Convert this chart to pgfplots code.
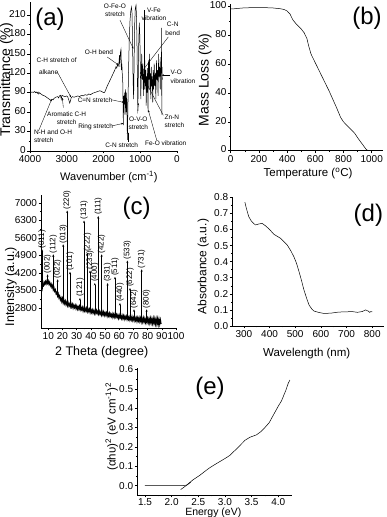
\documentclass[border=0pt]{standalone}
\usepackage{fontspec}
\setmainfont{Liberation Sans}
\usepackage{pgfplots}
\usepackage{pgfplotstable}
\pgfplotsset{compat=1.18}
\usetikzlibrary{arrows.meta}
\newcommand\myfs[1]{\fontsize{#1}{#1}\selectfont}
\newcommand\annfont{\fontsize{6.5}{8.5}\selectfont}
\pgfplotsset{myax/.style={scale only axis, axis lines*=left, tick align=outside,
  major tick length=2.5pt, minor tick length=1.4pt,
  every tick/.append style={black, line width=0.5pt},
  axis line style={line width=0.6pt},
  tick label style={font=\myfs{10}},
  xticklabel style={inner sep=1.5pt}, yticklabel style={inner sep=1.5pt},
  every axis x label/.append style={inner sep=0pt},
  every axis y label/.append style={inner sep=0pt},
  /pgf/number format/assume math mode=true, /pgf/number format/1000 sep={},
  clip=false, anchor=south west}}
\tikzset{ann/.style={-{Stealth[length=2.2pt,width=1.8pt]}, line width=0.35pt},
  annt/.style={font=\annfont, inner sep=0.5pt, align=center}}

\pgfplotstableread{
x base dy
5.6 3550 1600
9.5 3830 320
13.5 3600 1350
16.6 3330 620
20.5 3075 2275
23.3 2970 3730
25.3 2915 1335
32.3 2795 405
35.2 2745 3555
37.6 2715 2285
39.4 2690 1610
42.8 2645 1155
45.2 2618 3862
47.6 2590 2360
51.8 2540 1260
57.0 2485 1565
60.5 2450 550
65.7 2405 2295
67.6 2385 1215
70.4 2362 388
75.8 2320 2030
79.3 2295 455
}\peaks

\begin{document}
\begin{tikzpicture}
\path[use as bounding box] (0,0) rectangle (387pt,517pt);

% ---------------- (a) FTIR
\begin{axis}[myax, at={(30pt,366pt)}, width=147pt, height=149pt,
  x dir=reverse, xmin=0, xmax=4000, ymin=0, ymax=230,
  xtick={0,1000,2000,3000,4000}, minor x tick num=1,
  ytick={0,30,60,90,120,150,180,210}, minor y tick num=1,
  xticklabel style={inner sep=2.2pt}, yticklabel style={yshift=1.2pt},
  xlabel={Wavenumber (cm\textsuperscript{-1})}, ylabel={Transmittance (\%)},
  xlabel style={font=\myfs{11}, at={(axis description cs:0.537,-0.172)}, anchor=center},
  ylabel style={font=\myfs{14}, at={(axis description cs:-0.16,0.477)}, anchor=center}]
\addplot[black, line width=0.5pt] coordinates {
(4000,90) (3950,91) (3900,90.5) (3870,92) (3850,90) (3820,91) (3800,89) (3780,91)
(3760,88) (3740,90) (3700,88) (3650,86) (3600,85) (3550,83) (3500,81) (3450,79)
(3420,78) (3400,80) (3370,79) (3350,81) (3300,83) (3250,84) (3220,82) (3200,85)
(3170,86) (3150,80) (3130,86) (3100,85) (3050,84) (3000,85) (2970,83) (2940,78)
(2920,74) (2900,77) (2880,82) (2850,84) (2800,83) (2750,84) (2700,85) (2650,84)
(2600,86) (2550,85) (2500,87) (2450,86) (2400,88) (2350,87) (2300,89) (2250,90)
(2200,91) (2150,92) (2100,93) (2050,92) (2000,90) (1980,90) (1960,91.5) (1900,100)
(1850,106) (1800,112) (1750,118) (1700,124) (1660,130) (1640,128) (1620,133) (1600,131)
(1580,136) (1565,148) (1555,130) (1540,152) (1524,157) (1510,125) (1500,135) (1490,120)
(1475,105) (1460,40) (1450,85) (1440,72) (1425,90) (1415,56) (1400,95) (1385,60)
(1370,90) (1350,17) (1335,70) (1320,120) (1300,170) (1280,200) (1260,215) (1240,222)
(1225,215) (1210,170) (1195,110) (1180,80) (1170,120) (1155,190) (1135,220) (1115,225)
(1100,205) (1085,150) (1075,100) (1065,62) (1055,110) (1040,170) (1025,198) (1010,175)
(995,120) (985,80) (975,110) (960,150) (945,110) (930,135) (915,85) (900,125)
(888,95) (875,140) (862,100) (850,125) (838,70) (825,115) (812,90) (800,128)
(788,60) (775,140) (762,110) (750,150) (738,95) (725,120) (712,80) (700,130)
(688,100) (675,115) (660,75) (648,125) (635,95) (620,135) (605,100) (590,120)
(575,80) (560,140) (545,110) (530,125) (515,85) (500,150) (485,115) (470,130)
(455,95) (440,145) (425,120) (418,190) (414,56) (408,130) (400,110)};
\node[font=\myfs{24}] at (axis cs:3456,204) {(a)};
% annotations
\node[annt, anchor=west] at (axis cs:3840,140) {C-H stretch of};
\node[annt, anchor=west] at (axis cs:3773,121) {alkane};
\draw[ann] (axis cs:3257,122) -- (axis cs:2884,83);
\node[annt] at (axis cs:3002,51) {Aromatic C-H\\stretch};
\draw[ann] (axis cs:3093,67) -- (axis cs:3120,82);
\node[annt, anchor=north west, align=left] at (axis cs:3909,34) {N-H and O-H\\stretch};
\draw[ann] (axis cs:3767,31) -- (axis cs:3410,80);
\node[annt] at (axis cs:2122,153) {O-H bend};
\draw[ann] (axis cs:1896,145) -- (axis cs:1597,133);
\node[annt] at (axis cs:2231,79) {C=N stretch};
\draw[ann] (axis cs:1777,79) -- (axis cs:1442,75);
\node[annt] at (axis cs:2213,37.5) {Ring stretch};
\draw[ann] (axis cs:1777,38.6) -- (axis cs:1461,42.7);
\node[annt] at (axis cs:1505,9.3) {C-N stretch};
\draw[ann] (axis cs:1342,14.4) -- (axis cs:1342,30);
\node[annt] at (axis cs:1687,217) {O-Fe-O\\stretch};
\draw[ann] (axis cs:1551,202) -- (axis cs:1189,158);
\node[annt] at (axis cs:626,211) {V-Fe\\vibration};
\draw[ann] (axis cs:898,217) -- (axis cs:898,104);
\node[annt] at (axis cs:117,189) {C-N\\bend};
\draw[ann] (axis cs:237,176) -- (axis cs:1007,119);
\node[annt, anchor=north west, align=left] at (axis cs:190,126) {V-O\\vibration};
\draw[ann] (axis cs:190,117) -- (axis cs:416,117);
\node[annt, anchor=north west, align=left] at (axis cs:354,57) {Zn-N\\stretch};
\draw[ann] (axis cs:372,55) -- (axis cs:917,114);
\node[annt] at (axis cs:1052,43) {O-V-O\\stretch};
\draw[ann] (axis cs:1070,58) -- (axis cs:1052,74);
\node[annt] at (axis cs:307,11.9) {Fe-O vibration};
\draw[ann] (axis cs:553,17) -- (axis cs:781,63);
\end{axis}

% ---------------- (b) TGA
\begin{axis}[myax, at={(230.7pt,366.3pt)}, width=152.3pt, height=146.9pt,
  xmin=0, xmax=1080, ymin=0, ymax=102,
  xtick={0,200,400,600,800,1000}, minor x tick num=1,
  ytick={0,20,40,60,80,100}, minor y tick num=1,
  xticklabel style={inner sep=2.2pt}, yticklabel style={yshift=1.2pt},
  xlabel={Temperature (\textsuperscript{o}C)}, ylabel={Mass Loss (\%)},
  xlabel style={font=\myfs{11.5}, at={(axis description cs:0.508,-0.155)}, anchor=center},
  ylabel style={font=\myfs{14}, at={(axis description cs:-0.169,0.481)}, anchor=center}]
\addplot[black, line width=0.5pt] coordinates {
(0,98.5) (20,98.5) (50,98.8) (100,99.2) (150,99.3) (200,99.3) (250,99.3) (300,99.1)
(350,98.6) (380,98) (400,97) (420,95) (440,91) (460,88.5) (480,86.5) (500,84.5)
(520,82) (540,78) (555,72) (570,67) (600,61) (650,51) (700,41) (750,30) (780,23)
(800,20) (830,17) (860,14) (880,12) (900,9) (930,5) (960,1) (975,0)};
\node[font=\myfs{24}] at (axis cs:967,92) {(b)};
\end{axis}

% ---------------- (c) XRD
\begin{axis}[myax, at={(41.2pt,189pt)}, width=134.8pt, height=132.5pt,
  xmin=5, xmax=100, ymin=2000, ymax=7300,
  xtick={10,20,...,100}, minor x tick num=1,
  ytick={2800,3500,4200,4900,5600,6300,7000}, minor y tick num=1,
  xlabel={2 Theta (degree)}, ylabel={Intensity (a.u.)},
  xlabel style={font=\myfs{12.5}, at={(axis description cs:0.449,-0.181)}, anchor=center},
  ylabel style={font=\myfs{12.5}, at={(axis description cs:-0.225,0.312)}, anchor=center}]
\addplot[black, line width=1.1pt] coordinates {
(5.0,3490) (5.5,3490) (6.0,3700) (6.5,3680) (7.0,3830) (7.5,3750) (8.0,3860) (8.5,3770)
(9.0,3880) (9.5,3790) (10.0,3880) (10.5,3750) (11.0,3830) (11.5,3690) (12.0,3760) (12.5,3630)
(13.0,3700) (13.5,3530) (14.0,3610) (14.5,3470) (15.0,3530) (15.5,3370) (16.0,3420) (16.5,3280)
(17.0,3370) (17.5,3210) (18.0,3280) (18.5,3120) (19.0,3200) (19.5,3060) (20.0,3180) (20.5,3005)
(21.0,3110) (21.5,2980) (22.0,3080) (22.5,2935) (23.0,3030) (23.5,2895) (24.0,3010) (24.5,2885)
(25.0,2960) (25.5,2851) (26.0,2972) (26.5,2843) (27.0,2944) (27.5,2805) (28.0,2916) (28.5,2817)
(29.0,2908) (29.5,2779) (30.0,2880) (30.5,2752) (31.0,2854) (31.5,2756) (32.0,2868) (32.5,2730)
(33.0,2832) (33.5,2734) (34.0,2826) (34.5,2688) (35.0,2800) (35.5,2683) (36.0,2776) (36.5,2679)
(37.0,2792) (37.5,2655) (38.0,2758) (38.5,2661) (39.0,2754) (39.5,2617) (40.0,2730) (40.5,2624)
(41.0,2728) (41.5,2602) (42.0,2696) (42.5,2580) (43.0,2704) (43.5,2588) (44.0,2702) (44.5,2586)
(45.0,2670) (45.5,2554) (46.0,2668) (46.5,2552) (47.0,2636) (47.5,2520) (48.0,2644) (48.5,2528)
(49.0,2642) (49.5,2506) (50.0,2610) (50.5,2514) (51.0,2609) (51.5,2473) (52.0,2588) (52.5,2482)
(53.0,2597) (53.5,2461) (54.0,2556) (54.5,2460) (55.0,2565) (55.5,2430) (56.0,2545) (56.5,2430)
(57.0,2555) (57.5,2440) (58.0,2535) (58.5,2420) (59.0,2515) (59.5,2390) (60.0,2515) (60.5,2400)
(61.0,2486) (61.5,2381) (62.0,2507) (62.5,2382) (63.0,2488) (63.5,2353) (64.0,2469) (64.5,2374)
(65.0,2470) (65.5,2345) (66.0,2471) (66.5,2346) (67.0,2442) (67.5,2317) (68.0,2443) (68.5,2328)
(69.0,2454) (69.5,2309) (70.0,2415) (70.5,2291) (71.0,2427) (71.5,2303) (72.0,2409) (72.5,2265)
(73.0,2411) (73.5,2287) (74.0,2413) (74.5,2269) (75.0,2395) (75.5,2241) (76.0,2378) (76.5,2244)
(77.0,2401) (77.5,2247) (78.0,2374) (78.5,2220) (79.0,2357) (79.5,2223) (80.0,2380) (80.5,2217)
(81.0,2364) (81.5,2201) (82.0,2378) (82.5,2205) (83.0,2362) (83.5,2189) (84.0,2376) (84.5,2193)
(85.0,2360) (85.5,2165) (86.0,2360) (86.5,2165) (87.0,2360) (87.5,2148) (88.0,2346) (88.5,2154)
(89.0,2322) (89.5,2160)};
\addplot[black, line width=0.4pt, -{Stealth[length=2.5pt,width=2pt]},
  quiver={u=0, v=\thisrow{dy}}] table[x=x, y=base] {\peaks};
\node[rotate=90, anchor=west, font=\myfs{8}, inner sep=0.8pt] at (axis cs:5.6,5150) {(011)};
\node[rotate=90, anchor=west, font=\myfs{8}, inner sep=0.8pt] at (axis cs:9.5,4150) {(002)};
\node[rotate=90, anchor=west, font=\myfs{8}, inner sep=0.8pt] at (axis cs:13.5,4950) {(112)};
\node[rotate=90, anchor=west, font=\myfs{8}, inner sep=0.8pt] at (axis cs:16.6,3950) {(022)};
\node[rotate=90, anchor=west, font=\myfs{8}, inner sep=0.8pt] at (axis cs:20.5,5350) {(013)};
\node[rotate=90, anchor=west, font=\myfs{8}, inner sep=0.8pt] at (axis cs:23.3,6700) {(220)};
\node[rotate=90, anchor=west, font=\myfs{8}, inner sep=0.8pt] at (axis cs:25.3,4250) {(101)};
\node[rotate=90, anchor=west, font=\myfs{8}, inner sep=0.8pt] at (axis cs:32.3,3200) {(121)};
\node[rotate=90, anchor=west, font=\myfs{8}, inner sep=0.8pt] at (axis cs:35.2,6300) {(131)};
\node[rotate=90, anchor=west, font=\myfs{8}, inner sep=0.8pt] at (axis cs:37.6,5000) {(222)};
\node[rotate=90, anchor=west, font=\myfs{8}, inner sep=0.8pt] at (axis cs:39.4,4300) {(233)};
\node[rotate=90, anchor=west, font=\myfs{8}, inner sep=0.8pt] at (axis cs:42.8,3800) {(400)};
\node[rotate=90, anchor=west, font=\myfs{8}, inner sep=0.8pt] at (axis cs:45.2,6480) {(111)};
\node[rotate=90, anchor=west, font=\myfs{8}, inner sep=0.8pt] at (axis cs:47.6,4950) {(422)};
\node[rotate=90, anchor=west, font=\myfs{8}, inner sep=0.8pt] at (axis cs:51.8,3800) {(331)};
\node[rotate=90, anchor=west, font=\myfs{8}, inner sep=0.8pt] at (axis cs:57.0,4050) {(511)};
\node[rotate=90, anchor=west, font=\myfs{8}, inner sep=0.8pt] at (axis cs:60.5,3000) {(440)};
\node[rotate=90, anchor=west, font=\myfs{8}, inner sep=0.8pt] at (axis cs:65.7,4700) {(533)};
\node[rotate=90, anchor=west, font=\myfs{8}, inner sep=0.8pt] at (axis cs:67.6,3600) {(622)};
\node[rotate=90, anchor=west, font=\myfs{8}, inner sep=0.8pt] at (axis cs:70.4,2750) {(642)};
\node[rotate=90, anchor=west, font=\myfs{8}, inner sep=0.8pt] at (axis cs:75.8,4350) {(731)};
\node[rotate=90, anchor=west, font=\myfs{8}, inner sep=0.8pt] at (axis cs:79.3,2750) {(800)};
\node[font=\myfs{24}] at (axis cs:72.3,6788) {(c)};
\end{axis}

% ---------------- (d) UV-Vis
\begin{axis}[myax, at={(232.3pt,191pt)}, width=151.5pt, height=128.7pt,
  xmin=255, xmax=845, ymin=0, ymax=0.8,
  xtick={300,400,...,800}, minor x tick num=1,
  ytick={0,0.1,...,0.8}, minor y tick num=1,
  yticklabel style={/pgf/number format/.cd, fixed, fixed zerofill, precision=1},
  xlabel={Wavelength (nm)}, ylabel={Absorbance (a.u.)},
  xlabel style={font=\myfs{11.5}, at={(axis description cs:0.491,-0.212)}, anchor=center},
  ylabel style={font=\myfs{12}, at={(axis description cs:-0.191,0.461)}, anchor=center}]
\addplot[black, line width=0.5pt] coordinates {
(304,0.77) (310,0.73) (319,0.68) (330,0.65) (345,0.628) (358,0.634) (371,0.638) (385,0.622)
(400,0.6) (417,0.57) (443,0.545) (469,0.503) (482,0.47) (495,0.43) (505,0.39) (515,0.337)
(525,0.28) (534,0.224) (545,0.17) (554,0.13) (565,0.105) (573,0.093) (590,0.085) (612,0.078)
(640,0.08) (660,0.085) (677,0.087) (700,0.088) (720,0.09) (742,0.085) (761,0.09) (774,0.1)
(785,0.092) (790,0.085) (795,0.09) (800,0.087)};
\node[font=\myfs{24}] at (axis cs:785,0.69) {(d)};
\end{axis}

% ---------------- (e) Tauc
\begin{axis}[myax, at={(137.3pt,22pt)}, width=154.8pt, height=126.6pt,
  xmin=1.356, xmax=4.26, ymin=-0.048, ymax=0.605,
  xtick={1.5,2.0,...,4.0}, minor x tick num=1,
  ytick={0,0.1,...,0.6}, minor y tick num=1,
  xticklabel style={inner sep=1pt, /pgf/number format/.cd, fixed, fixed zerofill, precision=1},
  yticklabel style={/pgf/number format/.cd, fixed, fixed zerofill, precision=1},
  xlabel={Energy (eV)}, ylabel={(αhυ)\textsuperscript{2} (eV cm\textsuperscript{-1})\textsuperscript{2}},
  xlabel style={font=\myfs{10.5}, at={(axis description cs:0.491,-0.138)}, anchor=center},
  ylabel style={font=\myfs{11.5}, at={(axis description cs:-0.165,0.54)}, anchor=center}]
\addplot[black, line width=0.5pt] coordinates {
(1.5,0) (1.7,0) (2.0,0) (2.2,0) (2.28,0.003) (2.4,0.03) (2.53,0.054) (2.7,0.09)
(2.84,0.114) (3.0,0.14) (3.09,0.156) (3.2,0.185) (3.28,0.207) (3.38,0.235) (3.47,0.25)
(3.59,0.262) (3.68,0.28) (3.75,0.30) (3.83,0.325) (3.9,0.36) (4.0,0.41) (4.06,0.437)
(4.14,0.49) (4.19,0.53) (4.22,0.545)};
\addplot[black, line width=0.5pt] coordinates {(2.17,-0.02) (2.36,0.018)};
\node[font=\myfs{24}] at (axis cs:2.72,0.502) {(e)};
\end{axis}
\end{tikzpicture}
\end{document}
